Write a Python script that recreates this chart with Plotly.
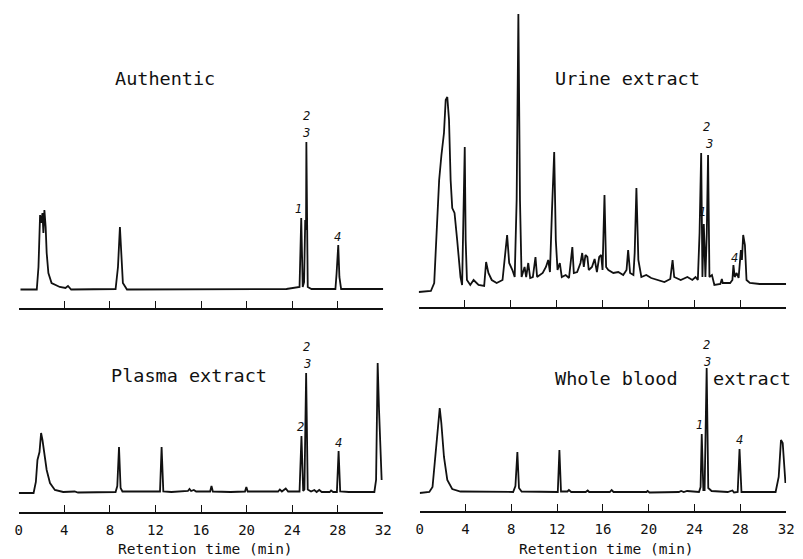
import plotly.graph_objects as go

# ---------------- data (retention time in min, detector response in arbitrary units) -------------
authentic_t = [0.15, 1.58, 1.73, 1.87, 1.96, 2.08, 2.16, 2.25, 2.36, 2.45, 2.6, 2.88, 3.6, 4.1, 4.32,
               4.6, 8.5, 8.71, 8.88, 9.02, 9.14, 9.5, 16.0, 23.5, 24.65, 24.8, 24.93, 25.05, 25.15,
               25.22, 25.25, 25.29, 25.37, 25.7, 27.8, 27.9, 28.05, 28.15, 28.3, 32.0]
authentic_v = [0.5, 0.5, 23, 75, 67, 77, 57, 80, 63, 37, 17, 7, 3, 2, 4,
               0.5, 1, 23, 63, 30, 7, 0.5, 1, 1, 3, 72, 3, 8, 70,
               60, 148, 70, 3, 1, 1, 16, 45, 13, 1, 1]

urine_t = [0.0, 1.06, 1.35, 1.58, 1.78, 1.98, 2.2, 2.35, 2.49, 2.64, 2.78, 2.92, 3.12, 3.35, 3.64,
           3.78, 3.87, 4.01, 4.09, 4.2, 4.49, 4.78, 5.21, 5.7, 5.87, 6.07, 6.36, 6.79, 7.3, 7.5,
           7.7, 7.88, 8.16, 8.36, 8.53, 8.68, 8.82, 8.96, 9.22, 9.36, 9.54, 9.71, 9.94, 10.17,
           10.31, 10.8, 11.08, 11.28, 11.43, 11.6, 11.8, 11.94, 12.09, 12.29, 12.46, 12.8, 13.09,
           13.38, 13.51, 13.8, 14.09, 14.24, 14.38, 14.52, 14.69, 14.81, 15.09, 15.32, 15.52,
           15.72, 15.89, 16.01, 16.18, 16.32, 16.52, 16.95, 17.38, 17.81, 18.1, 18.24, 18.41,
           18.7, 18.81, 18.96, 19.13, 19.39, 19.82, 20.25, 20.82, 21.4, 21.91, 22.11, 22.25,
           22.82, 23.4, 23.83, 24.11, 24.31, 24.46, 24.6, 24.71, 24.83, 24.97, 25.09, 25.2,
           25.32, 25.54, 25.75, 26.27, 26.4, 26.48, 27.12, 27.32, 27.41, 27.52, 27.69, 27.86,
           28.06, 28.15, 28.26, 28.41, 28.55, 28.84, 29.7, 30.84, 32.0]
urine_v = [0, 1, 9, 59, 112, 137, 159, 192, 195, 172, 112, 84, 79, 52, 15,
           7, 52, 145, 52, 12, 7, 12, 7, 6, 30, 19, 12, 9, 12, 35,
           57, 29, 22, 15, 92, 278, 92, 15, 25, 15, 29, 14, 15, 35,
           15, 19, 25, 32, 20, 79, 140, 52, 22, 29, 15, 17, 14,
           45, 19, 20, 29, 39, 25, 37, 35, 22, 25, 33, 20,
           35, 37, 22, 97, 25, 22, 19, 20, 17, 22, 42, 19,
           17, 39, 104, 32, 15, 17, 14, 12, 10, 13, 32, 15,
           12, 15, 12, 15, 12, 59, 139, 15, 68, 15, 59, 137,
           15, 17, 7, 8, 13, 9, 9, 12, 27, 15, 19, 14,
           42, 32, 57, 47, 12, 9, 8, 8, 8]

plasma_t = [0.0, 1.3, 1.5, 1.64, 1.82, 1.96, 2.08, 2.22, 2.45, 2.74, 3.17, 3.9, 4.9, 5.2, 8.5,
            8.65, 8.8, 8.94, 9.1, 12.4, 12.54, 12.69, 13.4, 14.85, 14.99, 15.13, 15.37, 15.57,
            16.8, 16.92, 17.04, 18.6, 19.86, 19.98, 20.1, 22.77, 22.92, 23.1, 23.44, 23.65,
            24.65, 24.82, 24.97, 25.08, 25.23, 25.37, 25.66, 25.95, 26.15, 26.38, 26.6, 27.3,
            27.42, 27.6, 27.93, 28.08, 28.22, 28.98, 31.22, 31.37, 31.51, 31.63, 31.71, 31.86]
plasma_v = [0, 0, 11, 33, 41, 60, 53, 40, 23, 10, 3, 1, 1.5, 0.5, 1,
            7, 46, 5, 1.5, 1.5, 46, 1.5, 1, 2, 4, 2, 3, 1.5,
            1.5, 7, 1.5, 1, 1.5, 6, 1.5, 1.5, 3.5, 1.5, 4.5, 1.5,
            1.5, 57, 2, 3.5, 120, 3.5, 1.5, 3, 1, 3, 1, 1,
            2.5, 1, 1, 42, 1.5, 1, 1, 13, 130, 83, 63, 13]

blood_t = [0.0, 0.84, 1.12, 1.32, 1.55, 1.75, 1.89, 2.12, 2.41, 2.84, 3.56, 8.16, 8.36, 8.53,
           8.67, 8.9, 12.06, 12.2, 12.34, 12.9, 13.03, 13.23, 14.5, 14.67, 14.8, 16.6, 16.76,
           16.93, 19.8, 19.9, 20.07, 22.63, 22.83, 23.06, 23.35, 24.39, 24.53, 24.63, 24.77,
           24.88, 25.06, 25.2, 25.49, 26.2, 26.9, 27.31, 27.45, 27.77, 27.93, 28.1, 31.08,
           31.35, 31.55, 31.7, 31.84, 31.94]
blood_v = [0, 1, 6, 33, 66, 85, 70, 36, 13, 4, 1.5, 1, 7, 41,
           5, 1.5, 1, 43, 1.5, 1.5, 3, 1, 1, 2.5, 1, 1, 3,
           1, 1, 2, 0.5, 1, 2, 1, 2, 1, 6, 59, 3,
           3, 125, 5, 2, 1.5, 1, 2.5, 0.5, 1, 44, 1, 1,
           16, 53, 50, 27, 10]

tick_vals = [0, 4, 8, 12, 16, 20, 24, 28, 32]
tick_text = ["0", "4", "8", "12", "16", "20", "24", "28", "32"]

panel_titles = ["Authentic", "Urine extract", "Plasma extract", "Whole blood", "extract"]
axis_title = "Retention time (min)"

# ---------------- layout helpers (pixel geometry of the 803x559 page) ----------------
W, H = 803, 559
def px(x):
    return x / W
def py(y):
    return 1 - y / H

MONO = "DejaVu Sans Mono"
INK = "#111111"

fig = go.Figure()

panels = [
    # name, t, v, xaxis, yaxis, x-domain px, y-domain px (top,bottom), baseline px, show labels
    ("Authentic", authentic_t, authentic_v, "x", "y", (15, 385), (0, 308), 290, False),
    ("Urine", urine_t, urine_v, "x2", "y2", (421, 794), (0, 307), 292, False),
    ("Plasma", plasma_t, plasma_v, "x3", "y3", (15, 385), (320, 512), 493, True),
    ("Blood", blood_t, blood_v, "x4", "y4", (422, 794), (320, 511), 493, True),
]

for i, (name, t, v, xa, ya, xd, yd, base, labels) in enumerate(panels, start=1):
    fig.add_trace(go.Scatter(x=t, y=v, xaxis=xa, yaxis=ya, mode="lines",
                             line=dict(color=INK, width=1.8), hoverinfo="skip",
                             showlegend=False, name=name))
    top, bottom = yd
    sfx = "" if i == 1 else str(i)
    fig.layout["xaxis" + sfx] = dict(
        domain=[px(xd[0]), px(xd[1])], range=[0, 32], anchor=ya,
        showline=True, linecolor=INK, linewidth=1.6, mirror=False,
        ticks="inside", ticklen=7, tickwidth=1.4, tickcolor=INK,
        tickvals=tick_vals, ticktext=tick_text, showticklabels=labels,
        ticklabelstandoff=4,
        tickfont=dict(family=MONO, size=14, color=INK),
        showgrid=False, zeroline=False, fixedrange=True,
    )
    fig.layout["yaxis" + sfx] = dict(
        domain=[py(bottom), py(top)], range=[-(bottom - base), base - top],
        anchor=xa, visible=False, fixedrange=True,
    )

annotations = []
title_pos = [(163, 78), (633, 78), (188, 375), (622, 378), (759, 378)]
for txt, (x, y) in zip(panel_titles, title_pos):
    annotations.append(dict(text=txt, x=px(x), y=py(y), xref="paper", yref="paper",
                            xanchor="center", yanchor="middle", showarrow=False,
                            font=dict(family=MONO, size=18.5, color=INK)))
for x in (205, 612):
    annotations.append(dict(text=axis_title, x=px(x), y=py(549), xref="paper", yref="paper",
                            xanchor="center", yanchor="middle", showarrow=False,
                            font=dict(family=MONO, size=14.5, color=INK)))

# peak numbers: (label, time, response, axes)
peak_labels = [
    ("1", 24.56, 81, "x", "y"), ("2", 25.25, 174, "x", "y"), ("3", 25.25, 157, "x", "y"), ("4", 28.02, 53, "x", "y"),
    ("2", 25.09, 165, "x2", "y2"), ("3", 25.30, 148, "x2", "y2"), ("1", 24.75, 80, "x2", "y2"), ("4", 27.53, 34, "x2", "y2"),
    ("2", 24.74, 66, "x3", "y3"), ("2", 25.28, 146, "x3", "y3"), ("3", 25.37, 129, "x3", "y3"), ("4", 28.08, 50, "x3", "y3"),
    ("1", 24.43, 68, "x4", "y4"), ("2", 25.06, 148, "x4", "y4"), ("3", 25.12, 131, "x4", "y4"), ("4", 27.93, 53, "x4", "y4"),
]
for txt, t, v, xa, ya in peak_labels:
    annotations.append(dict(text="<i>" + txt + "</i>", x=t, y=v, xref=xa, yref=ya,
                            xanchor="center", yanchor="middle", showarrow=False,
                            font=dict(family="DejaVu Sans", size=11.5, color=INK)))

fig.update_layout(width=W, height=H, margin=dict(l=0, r=0, t=0, b=0),
                  paper_bgcolor="white", plot_bgcolor="white",
                  annotations=annotations, showlegend=False)

# remove the browser's default 8px body margin so the figure sits at the page origin
fig.write_html("out.html", config={"displayModeBar": False},
               post_script="document.body.style.margin='0';document.body.style.overflow='hidden';")
